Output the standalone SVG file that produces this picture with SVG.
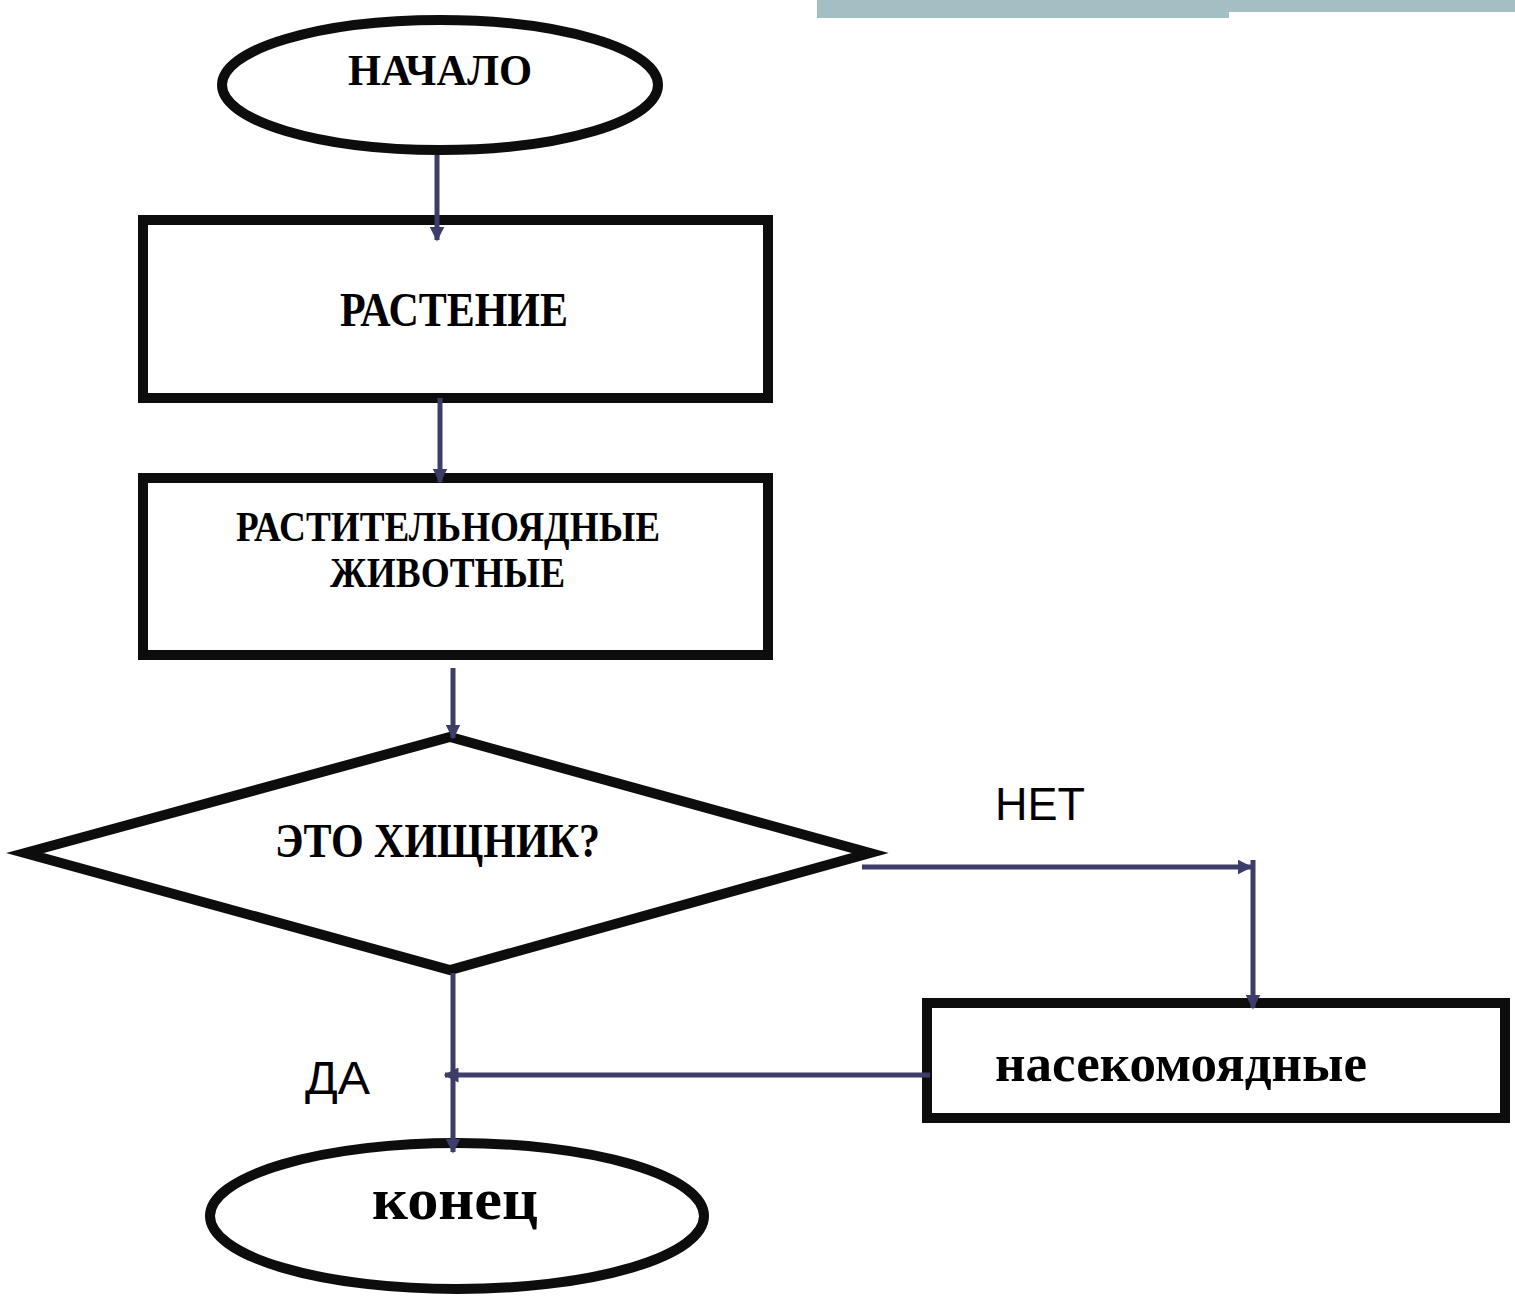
<svg xmlns="http://www.w3.org/2000/svg" width="1515" height="1296" viewBox="0 0 1515 1296">
<defs>
<style>
.shape{fill:#fff;stroke:#0d0d0d;stroke-width:10}
.conn{fill:none;stroke:#3d3d69;stroke-width:5}
.t{font-family:"Liberation Serif","Times New Roman",serif;font-weight:bold;fill:#000;text-anchor:start}
.s{font-family:"Liberation Sans",Arial,sans-serif;fill:#000}
</style>
<marker id="arr" viewBox="0 0 10 10" refX="9" refY="5" markerWidth="3" markerHeight="3" orient="auto" markerUnits="strokeWidth">
<path d="M0,0 L10,5 L0,10 z" fill="#3d3d69"/>
</marker>
</defs>
<rect width="1515" height="1296" fill="#fff"/>
<rect x="817" y="0" width="412" height="18" fill="#a3bfc3"/>
<rect x="1229" y="0" width="286" height="12" fill="#a3bfc3"/>

<g id="start">
<ellipse class="shape" cx="440" cy="85" rx="218" ry="65" stroke-width="11"/>
<text class="t" x="348" y="85" font-size="45" textLength="184" lengthAdjust="spacingAndGlyphs">НАЧАЛО</text>
</g>

<g id="plant">
<rect class="shape" x="143" y="220" width="625" height="178"/>
<text class="t" x="340" y="326" font-size="49" textLength="228" lengthAdjust="spacingAndGlyphs">РАСТЕНИЕ</text>
</g>

<g id="herbivores">
<rect class="shape" x="143" y="478" width="625" height="177"/>
<text class="t" x="236" y="541" font-size="42" textLength="424" lengthAdjust="spacingAndGlyphs">РАСТИТЕЛЬНОЯДНЫЕ</text>
<text class="t" x="330" y="587" font-size="42" textLength="235" lengthAdjust="spacingAndGlyphs">ЖИВОТНЫЕ</text>
</g>

<g id="decision">
<polygon class="shape" points="25,853 450,737 870,853 450,970"/>
<text class="t" x="275" y="857" font-size="49" textLength="325" lengthAdjust="spacingAndGlyphs">ЭТО ХИЩНИК?</text>
</g>

<g id="no-label"><text class="s" x="995" y="820" font-size="46" textLength="90" lengthAdjust="spacingAndGlyphs">НЕТ</text></g>
<g id="yes-label"><text class="s" x="305" y="1094" font-size="46" textLength="65" lengthAdjust="spacingAndGlyphs">ДА</text></g>

<g id="insectivores">
<rect class="shape" x="927" y="1003" width="578" height="115"/>
<text class="t" x="995" y="1081" font-size="52" textLength="372" lengthAdjust="spacingAndGlyphs">насекомоядные</text>
</g>

<g id="end">
<ellipse class="shape" cx="457" cy="1216" rx="247" ry="73"/>
<text class="t" x="372" y="1219" font-size="60" textLength="166" lengthAdjust="spacingAndGlyphs">конец</text>
</g>

<g id="connectors">
<line class="conn" x1="437" y1="155" x2="437" y2="240" marker-end="url(#arr)"/>
<line class="conn" x1="440" y1="398" x2="440" y2="482" marker-end="url(#arr)"/>
<line class="conn" x1="453" y1="668" x2="453" y2="738" marker-end="url(#arr)"/>
<line class="conn" x1="862" y1="867" x2="1251" y2="867" marker-end="url(#arr)"/>
<line class="conn" x1="1253" y1="860" x2="1253" y2="1008" marker-end="url(#arr)"/>
<line class="conn" x1="453" y1="973" x2="453" y2="1152" marker-end="url(#arr)"/>
<line class="conn" x1="930" y1="1075" x2="445" y2="1075" marker-end="url(#arr)"/>
</g>
</svg>
